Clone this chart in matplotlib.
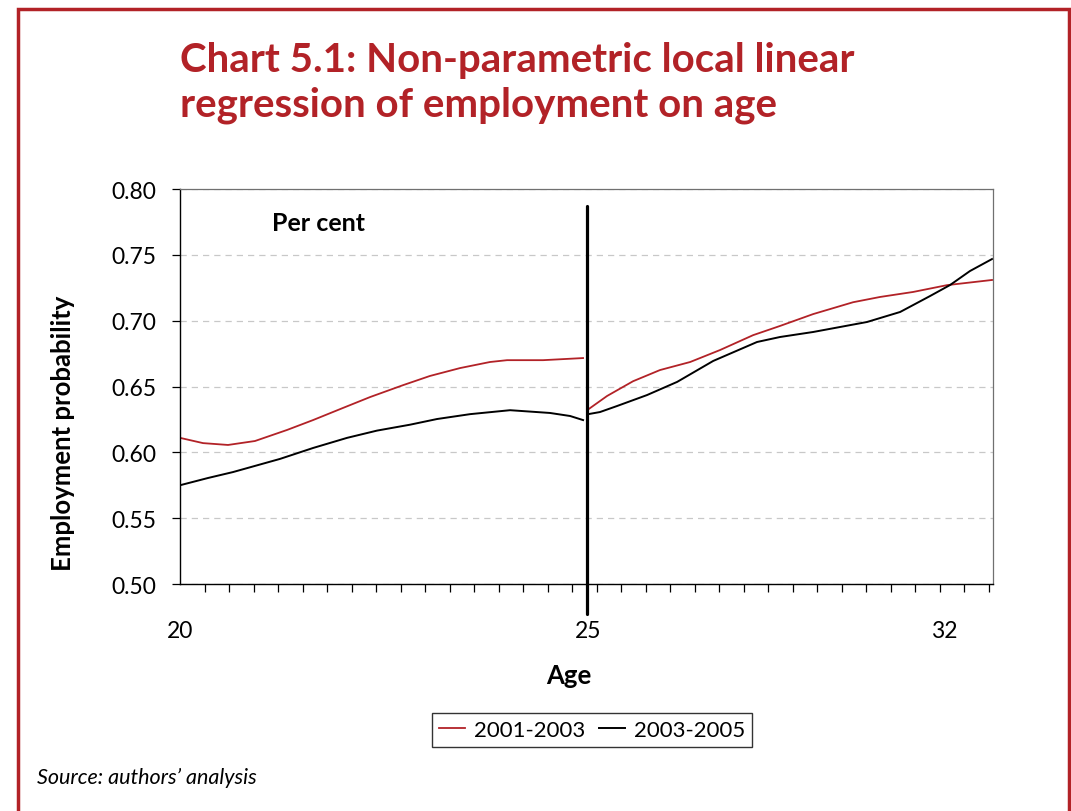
import matplotlib

matplotlib.use("Agg")
import matplotlib.pyplot as plt
from matplotlib.patches import Rectangle

plt.rcParams["font.family"] = ["Lato", "DejaVu Sans"]

RED = "#B22227"

# x is the position along the category axis (one unit per tick mark)
cutoff = 16.6
tick_pos = [0, 16.65, 31.2]
tick_labels = ["20", "25", "32"]
y_ticks = [0.50, 0.55, 0.60, 0.65, 0.70, 0.75, 0.80]

red_left_x = [0.0, 0.94, 1.96, 3.06, 4.37, 5.43, 6.65, 7.76, 9.10, 10.20, 11.43, 12.65, 13.35, 14.82, 16.45]
red_left_y = [0.611, 0.607, 0.6056, 0.6086, 0.617, 0.6245, 0.6337, 0.642, 0.651, 0.658, 0.664, 0.6686, 0.670, 0.670, 0.6716]
red_right_x = [16.69, 17.43, 18.49, 19.59, 20.82, 22.04, 23.39, 24.49, 25.84, 27.47, 28.57, 29.92, 31.31, 33.14]
red_right_y = [0.633, 0.6428, 0.654, 0.6625, 0.6686, 0.6777, 0.689, 0.696, 0.705, 0.714, 0.718, 0.7218, 0.727, 0.7309]

blk_left_x = [0.0, 1.14, 2.16, 4.08, 5.43, 6.82, 8.04, 9.39, 10.49, 11.84, 13.47, 15.10, 15.92, 16.45]
blk_left_y = [0.575, 0.5805, 0.585, 0.595, 0.6033, 0.611, 0.6165, 0.621, 0.6253, 0.629, 0.632, 0.6299, 0.6276, 0.6245]
blk_right_x = [16.69, 17.14, 17.84, 19.06, 20.29, 21.76, 23.55, 24.49, 25.84, 28.04, 29.39, 30.61, 31.43, 32.24, 33.14]
blk_right_y = [0.6291, 0.6306, 0.6352, 0.6435, 0.6535, 0.6694, 0.6838, 0.6876, 0.6914, 0.699, 0.7066, 0.7187, 0.7271, 0.7377, 0.7468]

W, H = 1071, 812
fig = plt.figure(figsize=(W / 100, H / 100), dpi=100)
ax = fig.add_axes([180 / W, 1 - 585 / H, (993 - 180) / W, (585 - 190) / H])

ax.plot(red_left_x, red_left_y, color=RED, lw=1.3, label="2001-2003")
ax.plot(red_right_x, red_right_y, color=RED, lw=1.3)
ax.plot(blk_left_x, blk_left_y, color="black", lw=1.4, label="2003-2005")
ax.plot(blk_right_x, blk_right_y, color="black", lw=1.4)
ax.plot([cutoff, cutoff], [0.787, 0.477], color="black", lw=2.3, clip_on=False, solid_capstyle="round")

ax.set_xlim(0, 33.18)
ax.set_ylim(0.50, 0.80)
ax.set_yticks(y_ticks)
ax.set_yticklabels([f"{v:.2f}" for v in y_ticks])
ax.yaxis.grid(True, color="#c8c8c8", ls=(0, (5, 4)), lw=0.9)
ax.set_axisbelow(True)
ax.tick_params(axis="y", length=6, width=0.9, labelsize=16.5, pad=11)

ax.set_xticks(range(34), minor=True)
ax.set_xticks(tick_pos)
ax.set_xticklabels(tick_labels)
ax.tick_params(axis="x", which="minor", length=6, width=0.9, direction="out")
ax.tick_params(axis="x", which="major", length=0, labelsize=16.5, pad=26)

for s in ("left", "bottom"):
    ax.spines[s].set_color("black")
    ax.spines[s].set_linewidth(1.0)
for s in ("top", "right"):
    ax.spines[s].set_color("#707070")
    ax.spines[s].set_linewidth(0.9)

ax.text(0.113, 0.915, "Per cent", transform=ax.transAxes, fontsize=18, fontweight="bold", va="center")

fig.text(63 / W, 1 - 433 / H, "Employment probability", rotation=90, fontsize=18.5,
         fontweight="bold", ha="center", va="center")
fig.text(569 / W, 1 - 676 / H, "Age", fontsize=18.5, fontweight="bold", ha="center", va="center")

fig.text(180 / W, 1 - 83 / H, "Chart 5.1: Non-parametric local linear\nregression of employment on age",
         color=RED, fontsize=29, fontweight="bold", ha="left", va="center", linespacing=1.22)

leg = fig.legend(loc="center", bbox_to_anchor=(592 / W, 1 - 731 / H), ncol=2, frameon=True,
                 fontsize=16, handlelength=1.2, handletextpad=0.4, columnspacing=0.6,
                 borderpad=0.3, borderaxespad=0, fancybox=False)
leg.get_frame().set_edgecolor("black")
leg.get_frame().set_linewidth(1.0)

fig.text(37 / W, 1 - 778 / H, "Source: authors\u2019 analysis", fontsize=15.5, style="italic",
         ha="left", va="center")

fig.add_artist(Rectangle((18 / W, -0.05), (1069 - 18) / W, 1.05 - 10 / H, transform=fig.transFigure,
                         fill=False, ec=RED, lw=2.5))

fig.savefig("out.png", dpi=100)
